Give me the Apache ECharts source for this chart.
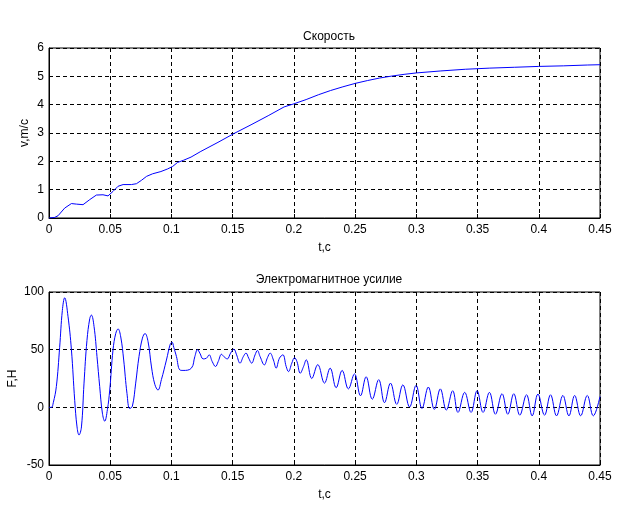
<!DOCTYPE html>
<html><head><meta charset="utf-8">
<script src="https://cdn.jsdelivr.net/npm/echarts/dist/echarts.min.js"></script>
<style>html,body{margin:0;padding:0;background:#fff}#c{width:624px;height:514px}</style>
</head><body><div id="c"></div>
<script>
// ---- data ----
const xTickLabels = ['0','0.05','0.1','0.15','0.2','0.25','0.3','0.35','0.4','0.45'];
const vYTicks = ['0','1','2','3','4','5','6'];
const fYTicks = ['-50','0','50','100'];

const titleTop = 'Скорость';
const titleBottom = 'Электромагнитное усилие';

const velT = [0,0.0046,0.0074,0.0128,0.0183,0.0224,0.0278,0.0333,0.0387,0.0441,0.0482,0.0523,0.0564,0.0605,0.0673,0.0714,0.0755,0.0797,0.0846,0.0914,0.0968,0.101,0.105,0.110,0.116,0.124,0.138,0.151,0.165,0.179,0.192,0.2,0.21,0.22,0.23,0.24,0.25,0.26,0.27,0.28,0.29,0.3,0.32,0.34,0.36,0.38,0.4,0.42,0.44,0.45];
const velV = [0,0.02,0.08,0.35,0.51,0.49,0.47,0.65,0.81,0.82,0.78,0.94,1.12,1.18,1.18,1.21,1.33,1.47,1.56,1.64,1.73,1.82,1.96,2.04,2.15,2.35,2.67,2.98,3.29,3.61,3.92,4.03,4.18,4.35,4.5,4.63,4.75,4.85,4.94,5.01,5.07,5.12,5.19,5.25,5.29,5.32,5.35,5.37,5.40,5.41];

const forceT = [0,0.002,0.0035,0.006,0.0087,0.0109,0.0128,0.0155,0.0183,0.021,0.0229,0.0245,0.0265,0.0286,0.031,0.0333,0.0346,0.0368,0.0392,0.0414,0.0436,0.0455,0.0477,0.0496,0.0523,0.0545,0.0564,0.0586,0.061,0.0637,0.0659,0.0681,0.0708,0.0735,0.0763,0.0784,0.0809,0.0837,0.0864,0.089,0.0918,0.0959,0.0991,0.1005,0.1019,0.1041,0.1068,0.1095,0.1163,0.1191,0.1213,0.1232,0.1259,0.1286,0.1308,0.1333,0.136,0.1382,0.1409,0.1428,0.1456,0.1483,0.151,0.1532,0.156,0.1587,0.1609,0.1631,0.1655,0.1683,0.1702,0.1724,0.1759,0.1784,0.1806,0.1833,0.1855,0.1882,0.191,0.1937,0.1956,0.1983,0.2005,0.2025,0.2052,0.2079,0.2101,0.2146,0.2195,0.225,0.2296,0.2345,0.2394,0.2445,0.2495,0.2544,0.259,0.264,0.2693,0.274,0.2789,0.284,0.289,0.2945,0.2998,0.3046,0.3098,0.3147,0.3196,0.3245,0.3297,0.334,0.3395,0.3447,0.3496,0.3545,0.3597,0.3646,0.370,0.3747,0.3796,0.3845,0.390,0.3946,0.3993,0.4047,0.4096,0.4145,0.4197,0.4246,0.4293,0.4342,0.4396,0.4445,0.45];
const forceV = [0,0,4,18,52,84,95,79,50,6,-17,-24,-17,21,58,77,80,70,44,18,-5,-12,-2,15,50,64,68,61,41,12,-1,1,21,44,60,64,57,35,20,15,24,41,55,56.5,52,44,32.5,32,34,44,50,47,42,42.6,45.5,39.7,35.4,39.7,46,44,42,47,50.4,45.5,38.3,44,47,42.6,38.3,45.5,49.3,44,36.8,43,47,41,34,42.6,45.5,35.4,31,38.3,43,39.7,29.6,35.4,41.2,25,37,21,34,17,32,16,29,10,26.5,7,24,4,21,2.6,19.5,0.3,19,-1,17.6,-1.8,16,-2.4,14.4,-4.4,13,-4.4,14.4,-4.4,13,-6,11.8,-6,11.8,-6.8,10.9,-7.4,11.5,-6.8,10.9,-7.4,10.3,-7.4,10.3,-7.4,10.3,-7.4,9.4];

// ---- chart ----
const FONT = "'Liberation Sans', Arial, sans-serif";
const txt = {color:'#000', fontFamily:FONT, fontSize:12};
const lbl = (arr, min, step) => v => { const i = Math.round((v - min)/step); return arr[i] !== undefined ? arr[i] : ''; };

function xAxisCfg(gi){
  return {gridIndex:gi, type:'value', min:0, max:0.45, interval:0.05,
    axisLine:{show:true, onZero:false, lineStyle:{color:'#000', width:1}},
    axisTick:{show:true, inside:true, length:4, lineStyle:{color:'#000'}},
    axisLabel:Object.assign({margin:6, formatter:lbl(xTickLabels,0,0.05)}, txt),
    splitLine:{show:true, lineStyle:{color:'#000', type:[4,3], width:1}},
    name:'t,c', nameLocation:'middle', nameGap:24, nameMoveOverlap:false, nameTextStyle:Object.assign({}, txt)};
}
function yAxisCfg(gi, min, max, step, arr, name, gap){
  return {gridIndex:gi, type:'value', min:min, max:max, interval:step,
    axisLine:{show:true, onZero:false, lineStyle:{color:'#000', width:1}},
    axisTick:{show:true, inside:true, length:4, lineStyle:{color:'#000'}},
    axisLabel:Object.assign({margin:5, formatter:lbl(arr,min,step)}, txt),
    splitLine:{show:true, lineStyle:{color:'#000', type:[4,3], width:1}},
    name:name, nameLocation:'middle', nameGap:gap, nameRotate:90, nameMoveOverlap:false, nameTextStyle:Object.assign({}, txt)};
}

const chart = echarts.init(document.getElementById('c'), null, {renderer:'canvas'});
chart.setOption({
  animation:false,
  backgroundColor:'#fff',
  title:[
    {text:titleTop, left:324, top:26, textAlign:'center', textStyle:Object.assign({fontWeight:'normal'}, txt)},
    {text:titleBottom, left:324, top:269, textAlign:'center', textStyle:Object.assign({fontWeight:'normal'}, txt)}
  ],
  grid:[
    {left:49, top:48, width:551, height:170, show:true, borderColor:'#000', borderWidth:1, backgroundColor:'transparent', containLabel:false, outerBoundsMode:'none'},
    {left:49, top:292, width:551, height:173, show:true, borderColor:'#000', borderWidth:1, backgroundColor:'transparent', containLabel:false, outerBoundsMode:'none'}
  ],
  xAxis:[xAxisCfg(0), xAxisCfg(1)],
  yAxis:[yAxisCfg(0,0,6,1,vYTicks,'v,m/c',18), yAxisCfg(1,-50,100,50,fYTicks,'F,H',30)],
  series:[
    {type:'line', xAxisIndex:0, yAxisIndex:0, showSymbol:false, clip:true,
     data:velT.map((t,i)=>[t, velV[i]]), lineStyle:{color:'#0000ff', width:1}},
    {type:'line', xAxisIndex:1, yAxisIndex:1, showSymbol:false, clip:true, smooth:0.4,
     data:forceT.map((t,i)=>[t, forceV[i]]), lineStyle:{color:'#0000ff', width:1}}
  ]
});
</script>
</body></html>
